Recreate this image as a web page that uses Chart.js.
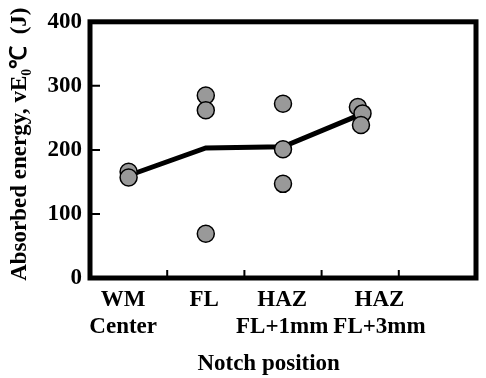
<!DOCTYPE html>
<html lang="en">
  <head>
    <meta charset="UTF-8" />
    <title>Absorbed energy by notch position</title>
    <style>
      body { margin: 0; background: #fff; }
    </style>
  </head>
  <body>
    <canvas id="chart" width="486" height="378"></canvas>
    <script src="https://cdn.jsdelivr.net/npm/chart.js"></script>
    <script>
      const categories = [["WM", "Center"], "FL", ["HAZ", "FL+1mm"], ["HAZ", "FL+3mm"]];
      const pointX = [0.5, 0.5, 1.5, 1.5, 1.5, 2.5, 2.5, 2.5, 3.47, 3.53, 3.51];
      const pointY = [166, 157, 285, 262, 69, 272, 201, 147, 267, 257, 239];
      const meanX = [0.5, 1.5, 2.5, 3.5];
      const meanY = [160, 203, 205, 255];
      const xTicks = [1, 2, 3, 4];
      const yTicks = [100, 200, 300];

      const FONT = "'Liberation Serif', 'Times New Roman', serif";
      // where the category labels sit on the x axis (they are not quite centred in the original)
      const labelPos = [0.43, 1.48, 2.49, 3.75];

      // frame and inward tick marks
      const framePlugin = {
        id: "frame",
        afterDraw(chart) {
          const { ctx, chartArea: a, scales } = chart;
          ctx.save();
          ctx.strokeStyle = "#000";
          ctx.lineWidth = 2;
          ctx.beginPath();
          for (const v of xTicks) {
            const px = scales.x.getPixelForValue(v);
            ctx.moveTo(px, a.bottom);
            ctx.lineTo(px, a.bottom - 8);
          }
          for (const v of yTicks) {
            const py = scales.y.getPixelForValue(v);
            ctx.moveTo(a.left, py);
            ctx.lineTo(a.left + 10, py);
          }
          ctx.stroke();
          ctx.lineWidth = 5;
          ctx.strokeRect(a.left, a.top, a.right - a.left, a.bottom - a.top);
          ctx.restore();
        },
      };

      new Chart(document.getElementById("chart"), {
        type: "scatter",
        data: {
          datasets: [
            {
              data: pointX.map((x, i) => ({ x, y: pointY[i] })),
              pointRadius: 8.5,
              pointBorderWidth: 1.5,
              pointBackgroundColor: "#999999",
              pointBorderColor: "#000",
              showLine: false,
            },
            {
              type: "line",
              data: meanX.map((x, i) => ({ x, y: meanY[i] })),
              borderColor: "#000",
              borderWidth: 5,
              pointRadius: 0,
              tension: 0,
            },
          ],
        },
        options: {
          responsive: false,
          animation: false,
          layout: { padding: { top: 17, right: 4, left: 0, bottom: 0 } },
          plugins: { legend: { display: false }, tooltip: { enabled: false } },
          scales: {
            x: {
              type: "linear",
              min: 0,
              max: 5,
              afterBuildTicks: (scale) => {
                scale.ticks = labelPos.map((v) => ({ value: v }));
              },
              afterFit: (scale) => {
                scale.height = 100;
              },
              grid: { display: false, drawTicks: false },
              border: { display: false },
              ticks: {
                autoSkip: false,
                maxRotation: 0,
                padding: 9,
                color: "#000",
                font: { family: FONT, size: 23, weight: "bold", lineHeight: "27px" },
                callback: (v, i) => categories[i],
              },
              title: {
                display: true,
                text: "Notch position     ",
                color: "#000",
                padding: { top: 0, bottom: 0 },
                font: { family: FONT, size: 23, weight: "bold" },
              },
            },
            y: {
              min: 0,
              max: 400,
              afterBuildTicks: (scale) => {
                scale.ticks = [0, 100, 200, 300, 400].map((v) => ({ value: v }));
              },
              afterFit: (scale) => {
                scale.width = 90;
              },
              grid: { display: false, drawTicks: false },
              border: { display: false },
              ticks: {
                padding: 8,
                color: "#000",
                font: { family: FONT, size: 23, weight: "bold" },
              },
              title: {
                display: true,
                text: "  Absorbed energy, vE\u2080\u2103  (J)",
                color: "#000",
                padding: { top: 6, bottom: 0 },
                font: { family: FONT, size: 23, weight: "bold" },
              },
            },
          },
        },
        plugins: [framePlugin],
      });
    </script>
  </body>
</html>
